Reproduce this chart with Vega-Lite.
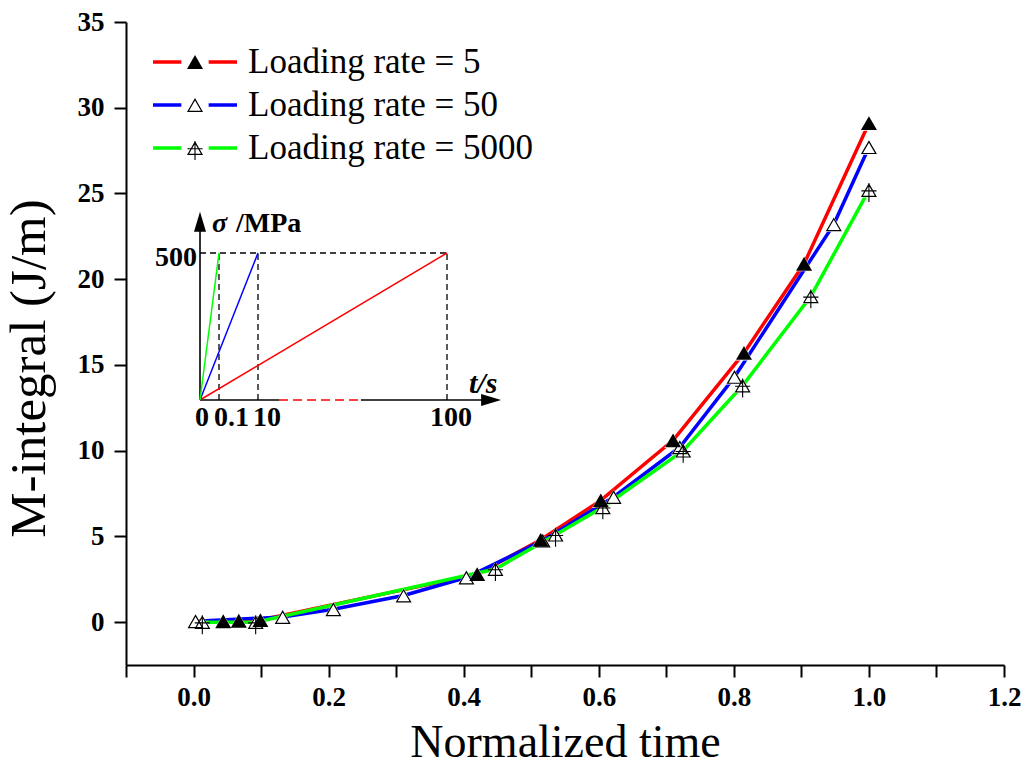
{
  "$schema": "https://vega.github.io/schema/vega-lite/v6.json",
  "width": 878,
  "height": 643,
  "autosize": {"type": "none"},
  "padding": {"left": 126, "top": 22, "right": 24, "bottom": 111},
  "background": "white",
  "config": {"view": {"stroke": null}, "font": "Liberation Serif"},
  "datasets": {
    "main": [
      {"series": "5", "label": "Loading rate = 5", "x": 0.044, "y": 0.05},
      {"series": "5", "label": "Loading rate = 5", "x": 0.067, "y": 0.08},
      {"series": "5", "label": "Loading rate = 5", "x": 0.099, "y": 0.12},
      {"series": "5", "label": "Loading rate = 5", "x": 0.42, "y": 2.8},
      {"series": "5", "label": "Loading rate = 5", "x": 0.514, "y": 4.8},
      {"series": "5", "label": "Loading rate = 5", "x": 0.603, "y": 7.1},
      {"series": "5", "label": "Loading rate = 5", "x": 0.71, "y": 10.6},
      {"series": "5", "label": "Loading rate = 5", "x": 0.815, "y": 15.7},
      {"series": "5", "label": "Loading rate = 5", "x": 0.904, "y": 20.9},
      {"series": "5", "label": "Loading rate = 5", "x": 1.0, "y": 29.1},
      {"series": "50", "label": "Loading rate = 50", "x": 0.003, "y": 0.05},
      {"series": "50", "label": "Loading rate = 50", "x": 0.132, "y": 0.3},
      {"series": "50", "label": "Loading rate = 50", "x": 0.207, "y": 0.75},
      {"series": "50", "label": "Loading rate = 50", "x": 0.311, "y": 1.55},
      {"series": "50", "label": "Loading rate = 50", "x": 0.404, "y": 2.6},
      {"series": "50", "label": "Loading rate = 50", "x": 0.517, "y": 4.75},
      {"series": "50", "label": "Loading rate = 50", "x": 0.622, "y": 7.3},
      {"series": "50", "label": "Loading rate = 50", "x": 0.72, "y": 10.2},
      {"series": "50", "label": "Loading rate = 50", "x": 0.801, "y": 14.3},
      {"series": "50", "label": "Loading rate = 50", "x": 0.948, "y": 23.2},
      {"series": "50", "label": "Loading rate = 50", "x": 1.0, "y": 27.7},
      {"series": "5000", "label": "Loading rate = 5000", "x": 0.013, "y": 0.0},
      {"series": "5000", "label": "Loading rate = 5000", "x": 0.092, "y": 0.0},
      {"series": "5000", "label": "Loading rate = 5000", "x": 0.447, "y": 3.1},
      {"series": "5000", "label": "Loading rate = 5000", "x": 0.536, "y": 5.1},
      {"series": "5000", "label": "Loading rate = 5000", "x": 0.606, "y": 6.7},
      {"series": "5000", "label": "Loading rate = 5000", "x": 0.725, "y": 10.0},
      {"series": "5000", "label": "Loading rate = 5000", "x": 0.813, "y": 13.8},
      {"series": "5000", "label": "Loading rate = 5000", "x": 0.914, "y": 19.0},
      {"series": "5000", "label": "Loading rate = 5000", "x": 1.0, "y": 25.2}
    ],
    "insetDashed": [
      {"t": 0, "s": 500, "t2": 100, "s2": 500},
      {"t": 0.1, "s": 0, "t2": 0.1, "s2": 500},
      {"t": 10, "s": 0, "t2": 10, "s2": 500},
      {"t": 100, "s": 0, "t2": 100, "s2": 500}
    ],
    "insetAxis": [
      {"t": 0, "s": 0, "t2": 20, "s2": 0},
      {"t": 59, "s": 0, "t2": 120, "s2": 0},
      {"t": 0, "s": 0, "t2": 0, "s2": 600}
    ],
    "insetBreak": [
      {"t": 20, "s": 0, "t2": 59, "s2": 0}
    ],
    "insetLoad": [
      {"series": "5", "t": 0, "s": 0, "t2": 100, "s2": 500},
      {"series": "50", "t": 0, "s": 0, "t2": 10, "s2": 500},
      {"series": "5000", "t": 0, "s": 0, "t2": 0.1, "s2": 500}
    ]
  },
  "layer": [
    {
      "layer": [
        {
          "data": {"name": "main"},
          "mark": {"type": "line", "interpolate": "linear", "strokeWidth": 3.5},
          "encoding": {
            "x": {"field": "x", "type": "quantitative"},
            "y": {"field": "y", "type": "quantitative"},
            "stroke": {
              "field": "label",
              "type": "nominal",
              "scale": {
                "domain": ["Loading rate = 5", "Loading rate = 50", "Loading rate = 5000"],
                "range": ["#ff0000", "#0000ff", "#00ff00"]
              },
              "legend": {
                "title": null,
                "orient": "none",
                "legendX": 51.5,
                "legendY": 22.5,
                "padding": 0,
                "rowPadding": 7,
                "symbolOffset": 0,
                "labelOffset": 35.5,
                "symbolType": "M-4,0L-1.3,0M1.3,0L4,0",
                "symbolSize": 441,
                "symbolStrokeWidth": 3.5,
                "labelFont": "Liberation Serif",
                "labelFontSize": 35,
                "labelColor": "black",
                "labelLimit": 500
              }
            }
          }
        },
        {
          "data": {"name": "main"},
          "mark": {"type": "point", "shape": "triangle-up", "size": 300, "opacity": 1, "filled": true, "color": "white", "strokeWidth": 0},
          "encoding": {
            "x": {"field": "x", "type": "quantitative"},
            "y": {"field": "y", "type": "quantitative"}
          }
        },
        {
          "data": {"name": "main"},
          "mark": {"type": "point", "size": 256, "opacity": 1, "filled": true, "color": "black", "strokeWidth": 0},
          "encoding": {
            "x": {"field": "x", "type": "quantitative"},
            "y": {"field": "y", "type": "quantitative"},
            "shape": {
              "field": "series",
              "type": "nominal",
              "scale": {
                "domain": ["5", "50", "5000"],
                "range": [
                  "triangle-up",
                  "M0,-0.866L1,0.866L-1,0.866ZM0,-0.566L-0.74,0.716L0.74,0.716Z",
                  "M0,-0.866L1,0.866L-1,0.866ZM0,-0.566L-0.74,0.716L0.74,0.716ZM-0.07,-0.866L0.07,-0.866L0.07,1.5L-0.07,1.5ZM-0.95,0.03L0.95,0.03L0.95,0.17L-0.95,0.17Z"
                ]
              },
              "legend": {
                "title": null,
                "orient": "none",
                "legendX": 51.5,
                "legendY": 22.5,
                "padding": 0,
                "rowPadding": 7,
                "symbolOffset": 0,
                "labelOffset": 35.5,
                "symbolSize": 256,
                "symbolFillColor": "black",
                "symbolStrokeWidth": 0,
                "symbolOpacity": 1,
                "labelFont": "Liberation Serif",
                "labelFontSize": 35,
                "labelExpr": "' '"
              }
            }
          }
        },
        {
          "data": {"values": [{}]},
          "mark": {"type": "rule", "stroke": "black", "strokeWidth": 2},
          "encoding": {"x": {"datum": 1.2, "type": "quantitative"}}
        }
      ],
      "encoding": {
        "x": {
          "field": "x",
          "type": "quantitative",
          "scale": {"domain": [-0.1, 1.2], "nice": false, "zero": false},
          "axis": {
            "title": "Normalized time",
            "values": [-0.1, 0, 0.1, 0.2, 0.3, 0.4, 0.5, 0.6, 0.7, 0.8, 0.9, 1.0, 1.1, 1.2],
            "labelExpr": "(round(datum.value*10)%2===0 && datum.value > -0.05) ? format(datum.value, '.1f') : ''",
            "labelFont": "Liberation Serif",
            "labelFontWeight": "bold",
            "labelFontSize": 27,
            "labelColor": "black",
            "labelPadding": 7,
            "labelFlush": false,
            "labelOverlap": false,
            "tickSize": 12,
            "tickWidth": 2,
            "tickColor": "black",
            "domainColor": "black",
            "domainWidth": 2,
            "grid": false,
            "titleFont": "Liberation Serif",
            "titleFontSize": 46,
            "titleFontWeight": "normal",
            "titleColor": "black",
            "titlePadding": 10,
            "encode": {"ticks": {"update": {"y2": {"signal": "round(datum.value*10)%2===0 ? 12 : 6"}}}}
          }
        },
        "y": {
          "field": "y",
          "type": "quantitative",
          "scale": {"domain": [-2.5, 35], "nice": false, "zero": false},
          "axis": {
            "title": "M-integral (J/m)",
            "values": [0, 5, 10, 15, 20, 25, 30, 35],
            "labelFont": "Liberation Serif",
            "labelFontWeight": "bold",
            "labelFontSize": 27,
            "labelColor": "black",
            "labelPadding": 10,
            "tickSize": 12,
            "tickWidth": 2,
            "tickColor": "black",
            "domainColor": "black",
            "domainWidth": 2,
            "grid": false,
            "titleFont": "Liberation Serif",
            "titleFontSize": 51,
            "titleFontWeight": "normal",
            "titleColor": "black",
            "titlePadding": 22,
            "titleY": 346
          }
        }
      }
    },
    {
      "encoding": {
        "x": {
          "field": "t",
          "type": "quantitative",
          "scale": {"domain": [0, 0.1, 10, 100], "range": [74, 93, 132, 321], "nice": false, "zero": false},
          "axis": null
        },
        "y": {
          "field": "s",
          "type": "quantitative",
          "scale": {"domain": [0, 500], "range": [378, 231], "nice": false, "zero": false},
          "axis": null
        }
      },
      "layer": [
        {
          "data": {"name": "insetDashed"},
          "mark": {"type": "rule", "stroke": "black", "strokeWidth": 1.3, "strokeDash": [6, 4]},
          "encoding": {"x2": {"field": "t2"}, "y2": {"field": "s2"}}
        },
        {
          "data": {"name": "insetAxis"},
          "mark": {"type": "rule", "stroke": "black", "strokeWidth": 1.6},
          "encoding": {"x2": {"field": "t2"}, "y2": {"field": "s2"}}
        },
        {
          "data": {"name": "insetBreak"},
          "mark": {"type": "rule", "stroke": "#ff0000", "strokeWidth": 1.6, "strokeDash": [9, 5]},
          "encoding": {"x2": {"field": "t2"}, "y2": {"field": "s2"}}
        },
        {
          "data": {"name": "insetLoad"},
          "transform": [{"filter": "datum.series === '5'"}],
          "mark": {"type": "rule", "stroke": "#ff0000", "strokeWidth": 1.5},
          "encoding": {"x2": {"field": "t2"}, "y2": {"field": "s2"}}
        },
        {
          "data": {"name": "insetLoad"},
          "transform": [{"filter": "datum.series === '50'"}],
          "mark": {"type": "rule", "stroke": "#0000ff", "strokeWidth": 1.5},
          "encoding": {"x2": {"field": "t2"}, "y2": {"field": "s2"}}
        },
        {
          "data": {"name": "insetLoad"},
          "transform": [{"filter": "datum.series === '5000'"}],
          "mark": {"type": "rule", "stroke": "#00ff00", "strokeWidth": 1.5},
          "encoding": {"x2": {"field": "t2"}, "y2": {"field": "s2"}}
        },
        {
          "data": {"values": [{"t": 121, "s": 0}]},
          "mark": {"type": "point", "shape": "M1,0L-1,-0.6L-1,0.6Z", "size": 400, "filled": true, "color": "black", "opacity": 1}
        },
        {
          "data": {"values": [{"t": 0, "s": 606}]},
          "mark": {"type": "point", "shape": "M0,-1L-0.6,1L0.6,1Z", "size": 400, "filled": true, "color": "black", "opacity": 1}
        },
        {
          "data": {"values": [{"t": 0, "s": 0, "txt": "0"}, {"t": 0.1, "s": 0, "txt": "0.1"}, {"t": 10, "s": 0, "txt": "10"}]},
          "mark": {"type": "text", "align": "left", "baseline": "top", "dx": -5, "dy": 4, "font": "Liberation Serif", "fontWeight": "bold", "fontSize": 28, "color": "black"},
          "encoding": {"text": {"field": "txt"}}
        },
        {
          "data": {"values": [{"t": 100, "s": 0, "txt": "100"}]},
          "mark": {"type": "text", "align": "center", "baseline": "top", "dx": 4, "dy": 4, "font": "Liberation Serif", "fontWeight": "bold", "fontSize": 28, "color": "black"},
          "encoding": {"text": {"field": "txt"}}
        },
        {
          "data": {"values": [{"t": 0, "s": 500, "txt": "500"}]},
          "mark": {"type": "text", "align": "right", "baseline": "middle", "dx": -3, "dy": 5, "font": "Liberation Serif", "fontWeight": "bold", "fontSize": 28, "color": "black"},
          "encoding": {"text": {"field": "txt"}}
        },
        {
          "data": {"values": [{"t": 0, "s": 599, "txt": "σ"}]},
          "mark": {"type": "text", "align": "left", "baseline": "middle", "dx": 12, "font": "Liberation Serif", "fontWeight": "bold", "fontStyle": "italic", "fontSize": 28, "color": "black"},
          "encoding": {"text": {"field": "txt"}}
        },
        {
          "data": {"values": [{"t": 0, "s": 599, "txt": "/MPa"}]},
          "mark": {"type": "text", "align": "left", "baseline": "middle", "dx": 36, "font": "Liberation Serif", "fontWeight": "bold", "fontSize": 28, "color": "black"},
          "encoding": {"text": {"field": "txt"}}
        },
        {
          "data": {"values": [{"t": 100, "s": 0, "txt": "t/s"}]},
          "mark": {"type": "text", "align": "left", "baseline": "middle", "dx": 22, "dy": -16, "font": "Liberation Serif", "fontWeight": "bold", "fontStyle": "italic", "fontSize": 30, "color": "black"},
          "encoding": {"text": {"field": "txt"}}
        }
      ]
    }
  ],
  "resolve": {"scale": {"x": "independent", "y": "independent"}}
}
